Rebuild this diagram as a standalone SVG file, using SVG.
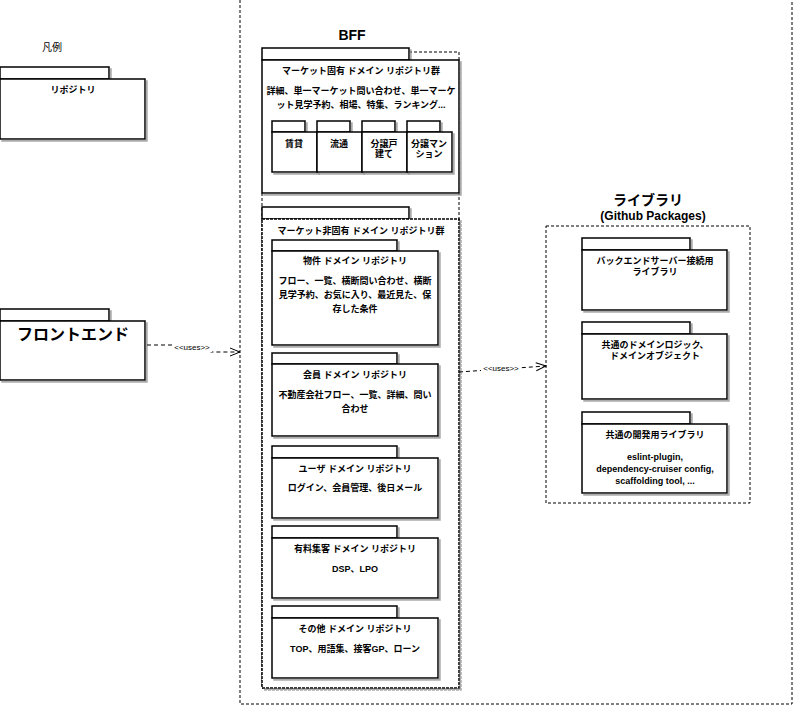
<svg xmlns="http://www.w3.org/2000/svg" width="800" height="719" viewBox="0 0 800 719">
<style>
text{font-family:"Liberation Sans","Noto Sans CJK JP",sans-serif;fill:#000;text-anchor:middle;font-weight:bold}
.n{font-weight:normal}
.p{fill:#fff;stroke:#000;stroke-width:1.5;filter:url(#sh)}
.d{fill:none;stroke:#000;stroke-width:1;stroke-dasharray:3,2}
.t{font-size:9px}
.c{fill:none;stroke:#000;stroke-dasharray:4,3}
</style>
<defs>
<filter id="sh" x="-5%" y="-5%" width="115%" height="115%"><feDropShadow dx="2" dy="2" stdDeviation="0.6" flood-color="#888" flood-opacity="0.7"/></filter>
<marker id="ar" markerWidth="12" markerHeight="10" refX="11" refY="5" orient="auto" markerUnits="userSpaceOnUse"><path d="M1,1 L11,5 L1,9" fill="none" stroke="#000"/></marker>
</defs>
<g id="bff">
<rect class="d" x="240" y="-1" width="552" height="705"/>
<text x="352" y="40" font-size="14">BFF</text>
</g>
<g id="legend">
<text class="n" x="52" y="51" font-size="10">凡例</text>
<rect class="p" x="0" y="67" width="109" height="12"/>
<rect class="p" x="0" y="79" width="145" height="60"/>
<text class="t" x="73" y="93">リポジトリ</text>
</g>
<g id="frontend">
<rect class="p" x="0" y="309" width="109" height="12"/>
<rect class="p" x="0" y="321" width="145" height="59"/>
<text x="73" y="340" font-size="16">フロントエンド</text>
</g>
<g id="outer-dashed">
<path class="d" d="M409,52 H459 V688 H262 V193"/>
</g>
<g id="market-specific">
<rect class="p" x="262" y="48" width="147" height="12"/>
<rect class="p" x="262" y="60" width="197" height="133"/>
<text class="t" x="361" y="74">マーケット固有 ドメイン リポジトリ群</text>
<text class="t" x="361" y="94">詳細、単一マーケット問い合わせ、単一マーケ</text>
<text class="t" x="361" y="108">ット見学予約、相場、特集、ランキング...</text>
</g>
<g id="chintai"><rect class="p" x="272" y="121" width="33" height="11"/><rect class="p" x="272" y="132" width="45" height="40"/><text class="t" x="294" y="147">賃貸</text></g>
<g id="ryutsu"><rect class="p" x="317" y="121" width="33" height="11"/><rect class="p" x="317" y="132" width="45" height="40"/><text class="t" x="339" y="147">流通</text></g>
<g id="bunjo-kodate"><rect class="p" x="362" y="121" width="33" height="11"/><rect class="p" x="362" y="132" width="45" height="40"/><text class="t" x="384" y="147">分譲戸</text><text class="t" x="384" y="157">建て</text></g>
<g id="bunjo-mansion"><rect class="p" x="407" y="121" width="33" height="11"/><rect class="p" x="407" y="132" width="45" height="40"/><text class="t" x="429" y="147">分譲マン</text><text class="t" x="429" y="157">ション</text></g>
<g id="market-nonspecific">
<rect class="p" x="262" y="207" width="147" height="12"/>
<rect class="p" x="262" y="219" width="197" height="469" style="stroke-dasharray:3,1"/>
<text class="t" x="361" y="234">マーケット非固有 ドメイン リポジトリ群</text>
</g>
<g id="bukken">
<rect class="p" x="272" y="240" width="125" height="11"/><rect class="p" x="272" y="251" width="166" height="94"/>
<text class="t" x="355" y="264">物件 ドメイン リポジトリ</text>
<text class="t" x="355" y="284">フロー、一覧、横断問い合わせ、横断</text>
<text class="t" x="355" y="298">見学予約、お気に入り、最近見た、保</text>
<text class="t" x="355" y="312">存した条件</text>
</g>
<g id="kaiin">
<rect class="p" x="272" y="353" width="125" height="11"/><rect class="p" x="272" y="364" width="166" height="72"/>
<text class="t" x="355" y="378">会員 ドメイン リポジトリ</text>
<text class="t" x="355" y="398">不動産会社フロー、一覧、詳細、問い</text>
<text class="t" x="355" y="412">合わせ</text>
</g>
<g id="user">
<rect class="p" x="272" y="446" width="125" height="12"/><rect class="p" x="272" y="458" width="166" height="60"/>
<text class="t" x="355" y="472">ユーザ ドメイン リポジトリ</text>
<text class="t" x="355" y="491">ログイン、会員管理、後日メール</text>
</g>
<g id="yuryo">
<rect class="p" x="272" y="526" width="125" height="12"/><rect class="p" x="272" y="538" width="166" height="60"/>
<text class="t" x="355" y="552">有料集客 ドメイン リポジトリ</text>
<text class="t" x="355" y="572">DSP、LPO</text>
</g>
<g id="sonota">
<rect class="p" x="272" y="606" width="125" height="12"/><rect class="p" x="272" y="618" width="166" height="60"/>
<text class="t" x="355" y="632">その他 ドメイン リポジトリ</text>
<text class="t" x="355" y="652">TOP、用語集、接客GP、ローン</text>
</g>
<g id="library">
<rect class="d" x="546" y="226" width="204" height="277"/>
<text x="648" y="205" font-size="14">ライブラリ</text>
<text x="653" y="220" font-size="12">(Github Packages)</text>
</g>
<g id="lib-backend">
<rect class="p" x="582" y="238" width="108" height="12"/><rect class="p" x="582" y="250" width="145" height="60"/>
<text class="t" x="655" y="264">バックエンドサーバー接続用</text>
<text class="t" x="655" y="275">ライブラリ</text>
</g>
<g id="lib-domain">
<rect class="p" x="582" y="322" width="108" height="12"/><rect class="p" x="582" y="334" width="145" height="65"/>
<text class="t" x="655" y="348">共通のドメインロジック、</text>
<text class="t" x="655" y="359">ドメインオブジェクト</text>
</g>
<g id="lib-dev">
<rect class="p" x="582" y="412" width="108" height="12"/><rect class="p" x="582" y="424" width="145" height="69"/>
<text class="t" x="655" y="438">共通の開発用ライブラリ</text>
<text class="t" x="655" y="460">eslint-plugin,</text>
<text class="t" x="655" y="472">dependency-cruiser config,</text>
<text class="t" x="655" y="484">scaffolding tool, ...</text>
</g>
<g id="connectors">
<path class="c" d="M147,345 L172,345 L212,352 L240,352" marker-end="url(#ar)"/>
<rect x="172" y="343" width="40" height="9" fill="#fff"/>
<text class="n" x="192" y="350" font-size="8">&lt;&lt;uses&gt;&gt;</text>
<path class="c" d="M459,372 L546,366" marker-end="url(#ar)"/>
<rect x="481" y="364" width="40" height="9" fill="#fff"/>
<text class="n" x="501" y="371" font-size="8">&lt;&lt;uses&gt;&gt;</text>
</g>
</svg>
